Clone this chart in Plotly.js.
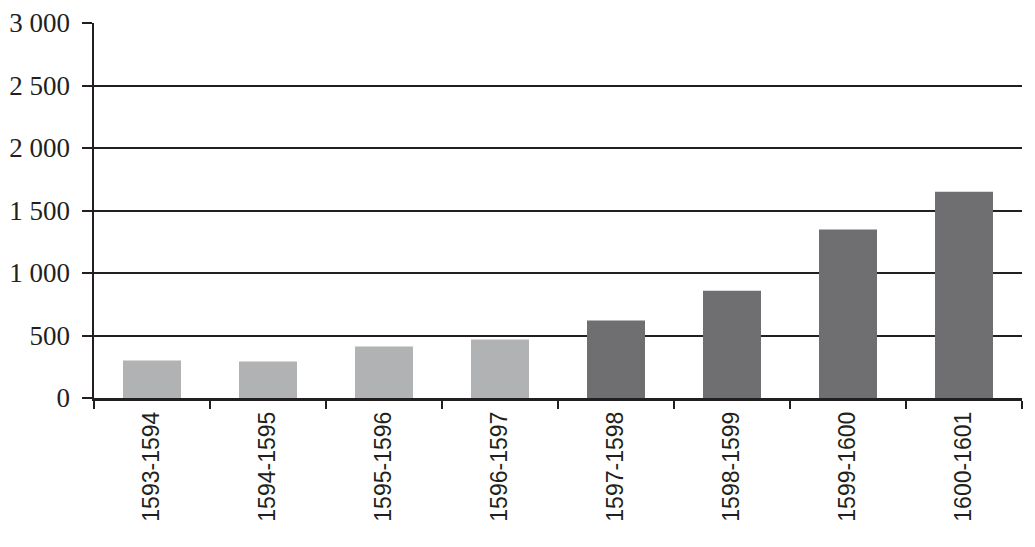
<!DOCTYPE html>
<html>
<head>
<meta charset="utf-8">
<script src="https://cdn.plot.ly/plotly-3.0.1.min.js"></script>
<style>
  html, body { margin: 0; padding: 0; background: #ffffff; }
  #chart { width: 1035px; height: 547px; }
</style>
</head>
<body>
<div id="chart"></div>
<script>
// Data
const categories = ["1593-1594", "1594-1595", "1595-1596", "1596-1597",
                    "1597-1598", "1598-1599", "1599-1600", "1600-1601"];
const values = [300, 292, 412, 468, 620, 858, 1348, 1650];
const period = ["early", "early", "early", "early", "late", "late", "late", "late"];
const yTickVals = [0, 500, 1000, 1500, 2000, 2500, 3000];
const yTickText = ["0", "500", "1 000", "1 500", "2 000", "2 500", "3 000"];

const colorFor = { early: "#b1b2b4", late: "#6f6f71" };
const ink = "#231f20";

const trace = {
  type: "bar",
  x: categories,
  y: values,
  marker: { color: period.map(p => colorFor[p]), line: { width: 0 } },
  hoverinfo: "x+y"
};

const layout = {
  width: 1035,
  height: 547,
  margin: { l: 94, r: 13, t: 23, b: 149, pad: 0 },
  paper_bgcolor: "#ffffff",
  plot_bgcolor: "#ffffff",
  showlegend: false,
  bargap: 0.5,
  xaxis: {
    type: "category",
    showgrid: false,
    showline: true,
    linecolor: ink,
    linewidth: 2.5,
    ticks: "outside",
    tickson: "boundaries",
    ticklen: 8,
    tickwidth: 2,
    tickcolor: ink,
    tickangle: -90,
    ticklabelstandoff: 2,
    tickfont: { family: "Liberation Sans, Arial, sans-serif", size: 23, color: ink },
    zeroline: false,
    fixedrange: true
  },
  yaxis: {
    range: [0, 3000],
    tickvals: yTickVals,
    ticktext: yTickText,
    showgrid: true,
    gridcolor: ink,
    gridwidth: 2,
    showline: true,
    linecolor: ink,
    linewidth: 2.5,
    ticks: "outside",
    ticklen: 10,
    tickwidth: 2,
    tickcolor: ink,
    ticklabelstandoff: 6,
    tickfont: { family: "Liberation Serif, DejaVu Serif, serif", size: 27, color: ink },
    zeroline: false,
    fixedrange: true
  }
};

Plotly.newPlot("chart", [trace], layout, { displayModeBar: false, staticPlot: true });
</script>
</body>
</html>
